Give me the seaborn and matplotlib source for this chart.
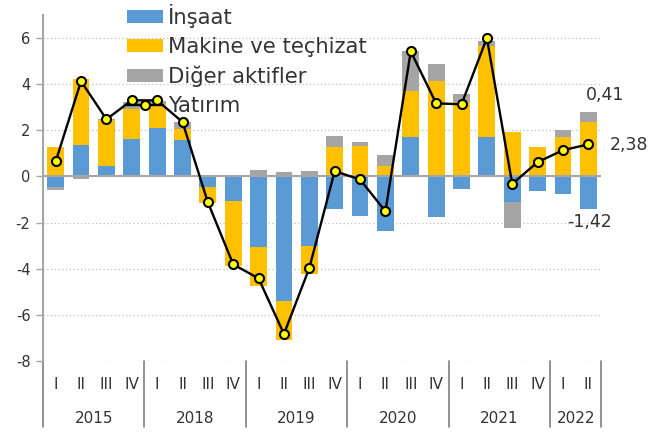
import matplotlib
matplotlib.use("Agg")
import matplotlib.pyplot as plt
import matplotlib.transforms as mtransforms
from matplotlib.lines import Line2D
from matplotlib.patches import Patch
import seaborn as sns
import numpy as np
import pandas as pd

# data
years = ["2015", "2018", "2019", "2020", "2021", "2022"]
year_quarters = [4, 4, 4, 4, 4, 2]
quarter_names = ["I", "II", "III", "IV"]

insaat = [-0.47, 1.36, 0.45, 1.62, 2.12, 1.57, -0.46, -1.07, -3.07, -5.39, -3.00,
          -1.40, -1.73, -2.38, 1.71, -1.77, -0.54, 1.71, -1.12, -0.64, -0.75, -1.42]
makine = [1.27, 2.86, 1.98, 1.29, 1.04, 0.47, -0.71, -2.83, -1.66, -1.70, -1.23,
          1.27, 1.32, 0.45, 2.00, 4.14, 3.23, 3.96, 1.93, 1.27, 1.71, 2.38]
diger = [-0.13, -0.10, 0.05, 0.32, 0.10, 0.34, 0.06, 0.00, 0.29, 0.20, 0.25,
         0.47, 0.19, 0.49, 1.74, 0.73, 0.36, 0.21, -1.11, 0.00, 0.29, 0.41]
yatirim = [0.65, 4.13, 2.48, 3.30, 3.30, 2.36, -1.12, -3.81, -4.42, -6.83, -3.97,
           0.23, -0.13, -1.51, 5.42, 3.17, 3.13, 6.00, -0.32, 0.62, 1.14, 1.39]

series_names = ["İnşaat", "Makine ve teçhizat", "Diğer aktifler"]
series_colors = ["#5B9BD5", "#FFC000", "#A5A5A5"]
line_name = "Yatırım"

# period labels
quarters = []
periods = []
for y, n in zip(years, year_quarters):
    for q in quarter_names[:n]:
        quarters.append(q)
        periods.append(f"{y} {q}")

sns.set_theme(style="white")
plt.rcParams["font.family"] = ["DejaVu Sans"]
plt.rcParams["axes.unicode_minus"] = False
text_color = "#333333"
axis_gray = "#A6A6A6"

fig = plt.figure(figsize=(6.51, 4.32), dpi=100)
ax = fig.add_axes([43 / 651, 71 / 432, (601 - 43) / 651, (417 - 71) / 432])

# stacked bars (positives and negatives stacked separately)
pos_base = np.zeros(len(periods))
neg_base = np.zeros(len(periods))
for vals, color in zip([insaat, makine, diger], series_colors):
    v = np.array(vals)
    bottom = np.where(v >= 0, pos_base, neg_base)
    sns.barplot(x=periods, y=v, bottom=bottom, color=color, saturation=1,
                width=0.66, linewidth=0, errorbar=None, ax=ax, zorder=2)
    pos_base = pos_base + np.where(v >= 0, v, 0)
    neg_base = neg_base + np.where(v < 0, v, 0)

# investment line
xpos = np.arange(len(periods))
ax.plot(xpos, yatirim, color="black", lw=1.7, marker="o", ms=6.5,
        mfc="#FFFF00", mec="black", mew=1.5, zorder=4)

ax.set_xlim(-0.5, len(periods) - 0.5)
ax.set_ylim(-8, 7)
ax.set_yticks(np.arange(-8, 7, 2))
ax.yaxis.grid(True, color="#BFBFBF", linestyle=(0, (1, 2)), lw=0.9)
ax.set_axisbelow(True)
ax.axhline(0, color=axis_gray, lw=1.5, zorder=3)

for s in ["top", "right", "bottom"]:
    ax.spines[s].set_visible(False)
ax.spines["left"].set_color(axis_gray)
ax.spines["left"].set_linewidth(1.5)
ax.tick_params(axis="y", left=True, length=5, width=1, color=axis_gray,
               labelsize=10.5, labelcolor=text_color, pad=4)
ax.set_xticks([])
ax.set_xlabel("")
ax.set_ylabel("")

# two level x axis
trans = mtransforms.blended_transform_factory(ax.transData, ax.transAxes)
for i, q in enumerate(quarters):
    ax.text(i, -0.069, q, transform=trans, ha="center", va="center",
            fontsize=11, color=text_color)
start = 0
bounds = [-0.5]
for y, n in zip(years, year_quarters):
    ax.text(start + (n - 1) / 2, -0.165, y, transform=trans, ha="center",
            va="center", fontsize=11, color=text_color)
    start += n
    bounds.append(start - 0.5)
for b in bounds:
    ax.plot([b, b], [0, -0.19], transform=trans, color="#7F7F7F", lw=1.2,
            clip_on=False)

# labels for last quarter
last = len(periods) - 1
ax.annotate(f"{diger[last]:.2f}".replace(".", ","),
            xy=(last, makine[last] + diger[last]), xytext=(12, 12),
            textcoords="offset points", ha="center", va="center",
            fontsize=12.5, color=text_color)
ax.annotate(f"{makine[last]:.2f}".replace(".", ","),
            xy=(last, makine[last] / 2), xytext=(29, 3),
            textcoords="offset points", ha="center", va="center",
            fontsize=12.5, color=text_color)
ax.annotate(f"{insaat[last]:.2f}".replace(".", ","),
            xy=(last, insaat[last]), xytext=(1, -9),
            textcoords="offset points", ha="center", va="center",
            fontsize=12.5, color=text_color)

handles = [Patch(facecolor=c, edgecolor="none") for c in series_colors]
handles.append(Line2D([], [], color="black", lw=1.7, marker="o", ms=6.5,
                      mfc="#FFFF00", mec="black", mew=1.5))
fig.legend(handles, series_names + [line_name], loc="upper left",
           bbox_to_anchor=(127 / 651, 1 - 4 / 432), frameon=False,
           fontsize=15.2, handlelength=1.7, handleheight=0.55,
           handletextpad=0.25, labelspacing=0.42, borderpad=0,
           borderaxespad=0, labelcolor=text_color)

fig.savefig("out.png", dpi=100)
